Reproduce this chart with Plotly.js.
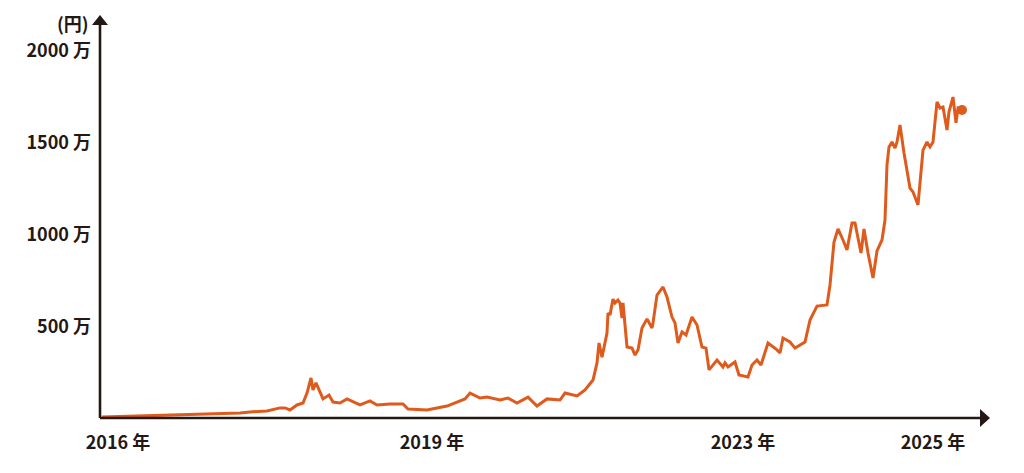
<!DOCTYPE html>
<html>
<head>
<meta charset="utf-8">
<script src="https://cdn.plot.ly/plotly-3.0.1.min.js"></script>
<style>
  html, body { margin: 0; padding: 0; background: #ffffff; }
  #chart { width: 1024px; height: 473px; }
</style>
</head>
<body>
<div id="chart"></div>
<script>
// Position along the (non-linear) time axis, and price in 万円
const t = [102,140,180,240,250,267,280,285,290,297,303,307,311,313,316,320,323,329,333,340,347,360,370,377,390,403,408,427,447,457,465,470,480,487,500,508,517,528,537,547,560,565,577,585,593,597,599,602,607,608,610,613,615,618,620,622,623,627,632,635,638,642,647,652,653,657,663,667,672,675,678,682,686,692,697,702,706,709,717,723,725,728,735,739,748,752,757,761,768,777,780,783,790,795,805,810,817,827,830,834,838,843,847,852,855,861,864,868,873,877,882,885,887,889,892,895,897,900,904,910,913,918,923,927,930,933,937,940,943,947,949,953,956,958,962];
const priceMan = [5,11,16,27,33,38,55,55,44,71,82,136,218,153,191,142,104,125,87,82,104,71,93,71,76,76,49,44,65,87,104,136,109,114,98,109,82,114,65,104,98,136,120,153,207,300,409,332,463,572,561,648,627,643,627,545,627,387,381,343,371,490,540,490,518,670,714,659,550,518,409,469,452,550,507,387,381,262,316,278,300,278,305,234,223,289,316,289,409,371,354,436,414,381,414,534,610,616,725,959,1030,970,916,1063,1063,899,1030,899,763,910,970,1079,1379,1477,1504,1471,1504,1597,1444,1253,1232,1161,1460,1504,1477,1504,1722,1689,1695,1569,1668,1749,1608,1689,1678];
const xTickPos = [118, 432, 743, 933];
const xTickLabels = ["2016 年", "2019 年", "2023 年", "2025 年"];
const yTickVals = [500, 1000, 1500, 2000];
const yTickLabels = ["500 万", "1000 万", "1500 万", "2000 万"];
const unitLabel = "(円)";

const ink = "#231815";
const lineColor = "#df5a1d";
const fontFam = "'Noto Sans CJK JP', 'Noto Sans', sans-serif";

const traces = [
  {
    x: t, y: priceMan, type: "scatter", mode: "lines",
    line: { color: lineColor, width: 3, shape: "linear" },
    hoverinfo: "skip"
  },
  {
    x: [t[t.length - 1]], y: [priceMan[priceMan.length - 1]],
    type: "scatter", mode: "markers",
    marker: { color: lineColor, size: 10 },
    hoverinfo: "skip"
  }
];

const layout = {
  width: 1024, height: 473,
  margin: { l: 100, r: 34, t: 15, b: 55 },
  paper_bgcolor: "#ffffff", plot_bgcolor: "#ffffff",
  showlegend: false,
  font: { family: fontFam, color: ink, size: 18, weight: 700 },
  xaxis: {
    range: [100, 990], showgrid: false, zeroline: false,
    showline: false, ticks: "",
    tickmode: "array", tickvals: xTickPos, ticktext: xTickLabels,
    tickfont: { family: fontFam, size: 18, color: ink, weight: 700 },
    ticklabelstandoff: 12, fixedrange: true
  },
  yaxis: {
    range: [0, 2196], showgrid: false, zeroline: false,
    showline: false, ticks: "",
    tickmode: "array", tickvals: yTickVals, ticktext: yTickLabels,
    tickfont: { family: fontFam, size: 18, color: ink, weight: 700 },
    ticklabelstandoff: 8, fixedrange: true
  },
  shapes: [
    { type: "line", xref: "paper", yref: "paper", x0: 0, y0: 0, x1: 0.99, y1: 0,
      line: { color: ink, width: 2.6 } },
    { type: "line", xref: "paper", yref: "paper", x0: 0, y0: 0, x1: 0, y1: 0.98,
      line: { color: ink, width: 2.6 } },
    { type: "path", xref: "paper", yref: "paper",
      path: "M 1 0 L 0.98876 0.0223 L 0.98876 -0.0223 Z",
      fillcolor: ink, line: { color: ink, width: 0 } },
    { type: "path", xref: "paper", yref: "paper",
      path: "M 0 1 L 0.009 0.9752 L -0.009 0.9752 Z",
      fillcolor: ink, line: { color: ink, width: 0 } }
  ],
  annotations: [
    { xref: "paper", yref: "paper", x: 0, y: 0.98, xanchor: "right", yanchor: "middle",
      xshift: -9, text: unitLabel, showarrow: false,
      font: { family: fontFam, size: 18, color: ink, weight: 700 } }
  ]
};

Plotly.newPlot("chart", traces, layout, { displayModeBar: false, staticPlot: true });
</script>
</body>
</html>
